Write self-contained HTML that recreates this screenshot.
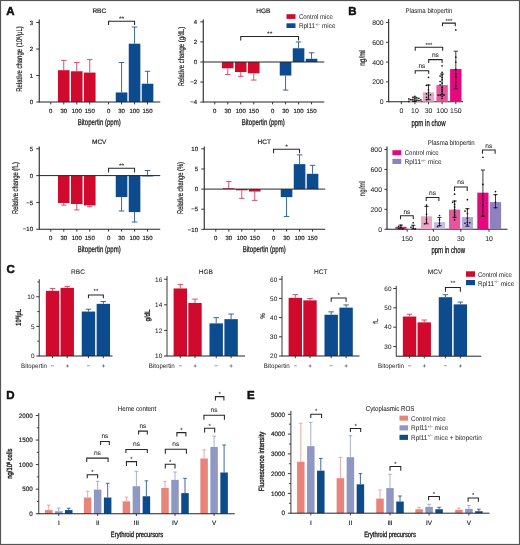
<!DOCTYPE html><html><head><meta charset="utf-8"><style>html,body{margin:0;padding:0;background:#fff;}svg{display:block;font-family:"Liberation Sans",sans-serif;will-change:transform;text-rendering:geometricPrecision;}</style></head><body>
<svg width="520" height="545" viewBox="0 0 520 545">
<rect x="0" y="0" width="520" height="545" fill="#fff"/>
<rect x="57.95" y="70.20" width="11.60" height="31.80" fill="#cf0a2c"/>
<rect x="70.95" y="71.26" width="11.60" height="30.74" fill="#cf0a2c"/>
<rect x="83.95" y="72.58" width="11.60" height="29.42" fill="#cf0a2c"/>
<rect x="115.75" y="92.46" width="11.60" height="9.54" fill="#0c4b8e"/>
<rect x="128.75" y="43.70" width="11.60" height="58.30" fill="#0c4b8e"/>
<rect x="141.75" y="83.72" width="11.60" height="18.28" fill="#0c4b8e"/>
<line x1="63.75" y1="70.20" x2="63.75" y2="60.39" stroke="#d04060" stroke-width="0.9"/>
<line x1="61.00" y1="60.39" x2="66.50" y2="60.39" stroke="#d04060" stroke-width="0.9"/>
<line x1="76.75" y1="71.26" x2="76.75" y2="62.52" stroke="#d04060" stroke-width="0.9"/>
<line x1="74.00" y1="62.52" x2="79.50" y2="62.52" stroke="#d04060" stroke-width="0.9"/>
<line x1="89.75" y1="72.58" x2="89.75" y2="59.60" stroke="#d04060" stroke-width="0.9"/>
<line x1="87.00" y1="59.60" x2="92.50" y2="59.60" stroke="#d04060" stroke-width="0.9"/>
<line x1="121.55" y1="92.46" x2="121.55" y2="62.52" stroke="#245896" stroke-width="0.9"/>
<line x1="118.80" y1="62.52" x2="124.30" y2="62.52" stroke="#245896" stroke-width="0.9"/>
<line x1="134.55" y1="43.70" x2="134.55" y2="27.00" stroke="#245896" stroke-width="0.9"/>
<line x1="131.80" y1="27.00" x2="137.30" y2="27.00" stroke="#245896" stroke-width="0.9"/>
<line x1="147.55" y1="83.72" x2="147.55" y2="71.26" stroke="#245896" stroke-width="0.9"/>
<line x1="144.80" y1="71.26" x2="150.30" y2="71.26" stroke="#245896" stroke-width="0.9"/>
<line x1="39.25" y1="19.50" x2="39.25" y2="102.50" stroke="#252525" stroke-width="1.1"/>
<line x1="36.25" y1="102.00" x2="39.25" y2="102.00" stroke="#252525" stroke-width="0.9"/>
<text x="33.05" y="104.15" font-size="6" text-anchor="end" fill="#1c1c1c" stroke="#1c1c1c" stroke-width="0.18">0</text>
<line x1="36.25" y1="75.50" x2="39.25" y2="75.50" stroke="#252525" stroke-width="0.9"/>
<text x="33.05" y="77.65" font-size="6" text-anchor="end" fill="#1c1c1c" stroke="#1c1c1c" stroke-width="0.18">1</text>
<line x1="36.25" y1="49.00" x2="39.25" y2="49.00" stroke="#252525" stroke-width="0.9"/>
<text x="33.05" y="51.15" font-size="6" text-anchor="end" fill="#1c1c1c" stroke="#1c1c1c" stroke-width="0.18">2</text>
<line x1="36.25" y1="22.50" x2="39.25" y2="22.50" stroke="#252525" stroke-width="0.9"/>
<text x="33.05" y="24.65" font-size="6" text-anchor="end" fill="#1c1c1c" stroke="#1c1c1c" stroke-width="0.18">3</text>
<line x1="39.25" y1="102.00" x2="160.25" y2="102.00" stroke="#252525" stroke-width="1.0"/>
<line x1="50.75" y1="102.00" x2="50.75" y2="104.40" stroke="#252525" stroke-width="0.9"/>
<text x="50.75" y="112.85" font-size="6" text-anchor="middle" fill="#1c1c1c" stroke="#1c1c1c" stroke-width="0.18">0</text>
<line x1="63.75" y1="102.00" x2="63.75" y2="104.40" stroke="#252525" stroke-width="0.9"/>
<text x="63.75" y="112.85" font-size="6" text-anchor="middle" fill="#1c1c1c" stroke="#1c1c1c" stroke-width="0.18">30</text>
<line x1="76.75" y1="102.00" x2="76.75" y2="104.40" stroke="#252525" stroke-width="0.9"/>
<text x="76.75" y="112.85" font-size="6" text-anchor="middle" fill="#1c1c1c" stroke="#1c1c1c" stroke-width="0.18">100</text>
<line x1="89.75" y1="102.00" x2="89.75" y2="104.40" stroke="#252525" stroke-width="0.9"/>
<text x="89.75" y="112.85" font-size="6" text-anchor="middle" fill="#1c1c1c" stroke="#1c1c1c" stroke-width="0.18">150</text>
<line x1="108.55" y1="102.00" x2="108.55" y2="104.40" stroke="#252525" stroke-width="0.9"/>
<text x="108.55" y="112.85" font-size="6" text-anchor="middle" fill="#1c1c1c" stroke="#1c1c1c" stroke-width="0.18">0</text>
<line x1="121.55" y1="102.00" x2="121.55" y2="104.40" stroke="#252525" stroke-width="0.9"/>
<text x="121.55" y="112.85" font-size="6" text-anchor="middle" fill="#1c1c1c" stroke="#1c1c1c" stroke-width="0.18">30</text>
<line x1="134.55" y1="102.00" x2="134.55" y2="104.40" stroke="#252525" stroke-width="0.9"/>
<text x="134.55" y="112.85" font-size="6" text-anchor="middle" fill="#1c1c1c" stroke="#1c1c1c" stroke-width="0.18">100</text>
<line x1="147.55" y1="102.00" x2="147.55" y2="104.40" stroke="#252525" stroke-width="0.9"/>
<text x="147.55" y="112.85" font-size="6" text-anchor="middle" fill="#1c1c1c" stroke="#1c1c1c" stroke-width="0.18">150</text>
<text x="99.25" y="12.83" font-size="6.5" text-anchor="middle" fill="#1c1c1c" stroke="#1c1c1c" stroke-width="0.18">RBC</text>
<text x="99.25" y="124.94" font-size="8.5" text-anchor="middle" fill="#1c1c1c" stroke="#1c1c1c" stroke-width="0.28" textLength="43" lengthAdjust="spacingAndGlyphs">Bitopertin (ppm)</text>
<text x="0" y="0" font-size="8.2" text-anchor="middle" fill="#1c1c1c" stroke="#1c1c1c" stroke-width="0.2" textLength="65.5" lengthAdjust="spacingAndGlyphs" transform="translate(22.40 59.00) rotate(-90)">Relative change (10<tspan font-size="5" dy="-2.5">6</tspan><tspan dy="2.5">/μL)</tspan></text>
<path d="M108.55,25.00 V21.25 H134.55 V25.00" fill="none" stroke="#252525" stroke-width="1.05"/>
<text x="121.55" y="21.23" font-size="6.8" text-anchor="middle" fill="#1c1c1c" stroke="#1c1c1c" stroke-width="0.05">**</text>
<rect x="221.95" y="62.00" width="11.60" height="6.32" fill="#cf0a2c"/>
<rect x="234.95" y="62.00" width="11.60" height="10.03" fill="#cf0a2c"/>
<rect x="247.95" y="62.00" width="11.60" height="11.33" fill="#cf0a2c"/>
<rect x="279.75" y="62.00" width="11.60" height="13.54" fill="#0c4b8e"/>
<rect x="292.75" y="48.26" width="11.60" height="13.74" fill="#0c4b8e"/>
<rect x="305.75" y="58.79" width="11.60" height="3.21" fill="#0c4b8e"/>
<line x1="227.75" y1="68.32" x2="227.75" y2="74.54" stroke="#d04060" stroke-width="0.9"/>
<line x1="225.00" y1="74.54" x2="230.50" y2="74.54" stroke="#d04060" stroke-width="0.9"/>
<line x1="240.75" y1="72.03" x2="240.75" y2="76.34" stroke="#d04060" stroke-width="0.9"/>
<line x1="238.00" y1="76.34" x2="243.50" y2="76.34" stroke="#d04060" stroke-width="0.9"/>
<line x1="253.75" y1="73.33" x2="253.75" y2="80.05" stroke="#d04060" stroke-width="0.9"/>
<line x1="251.00" y1="80.05" x2="256.50" y2="80.05" stroke="#d04060" stroke-width="0.9"/>
<line x1="285.55" y1="75.54" x2="285.55" y2="90.08" stroke="#245896" stroke-width="0.9"/>
<line x1="282.80" y1="90.08" x2="288.30" y2="90.08" stroke="#245896" stroke-width="0.9"/>
<line x1="298.55" y1="48.26" x2="298.55" y2="41.94" stroke="#245896" stroke-width="0.9"/>
<line x1="295.80" y1="41.94" x2="301.30" y2="41.94" stroke="#245896" stroke-width="0.9"/>
<line x1="311.55" y1="58.79" x2="311.55" y2="52.77" stroke="#245896" stroke-width="0.9"/>
<line x1="308.80" y1="52.77" x2="314.30" y2="52.77" stroke="#245896" stroke-width="0.9"/>
<line x1="203.25" y1="19.50" x2="203.25" y2="102.50" stroke="#252525" stroke-width="1.1"/>
<line x1="200.25" y1="102.12" x2="203.25" y2="102.12" stroke="#252525" stroke-width="0.9"/>
<text x="197.05" y="104.27" font-size="6" text-anchor="end" fill="#1c1c1c" stroke="#1c1c1c" stroke-width="0.18">−4</text>
<line x1="200.25" y1="82.06" x2="203.25" y2="82.06" stroke="#252525" stroke-width="0.9"/>
<text x="197.05" y="84.21" font-size="6" text-anchor="end" fill="#1c1c1c" stroke="#1c1c1c" stroke-width="0.18">−2</text>
<line x1="200.25" y1="62.00" x2="203.25" y2="62.00" stroke="#252525" stroke-width="0.9"/>
<text x="197.05" y="64.15" font-size="6" text-anchor="end" fill="#1c1c1c" stroke="#1c1c1c" stroke-width="0.18">0</text>
<line x1="200.25" y1="41.94" x2="203.25" y2="41.94" stroke="#252525" stroke-width="0.9"/>
<text x="197.05" y="44.09" font-size="6" text-anchor="end" fill="#1c1c1c" stroke="#1c1c1c" stroke-width="0.18">2</text>
<line x1="200.25" y1="21.88" x2="203.25" y2="21.88" stroke="#252525" stroke-width="0.9"/>
<text x="197.05" y="24.03" font-size="6" text-anchor="end" fill="#1c1c1c" stroke="#1c1c1c" stroke-width="0.18">4</text>
<line x1="203.25" y1="102.00" x2="324.25" y2="102.00" stroke="#252525" stroke-width="1.0"/>
<line x1="203.25" y1="62.00" x2="324.25" y2="62.00" stroke="#252525" stroke-width="1.0"/>
<line x1="214.75" y1="102.00" x2="214.75" y2="104.40" stroke="#252525" stroke-width="0.9"/>
<text x="214.75" y="112.85" font-size="6" text-anchor="middle" fill="#1c1c1c" stroke="#1c1c1c" stroke-width="0.18">0</text>
<line x1="227.75" y1="102.00" x2="227.75" y2="104.40" stroke="#252525" stroke-width="0.9"/>
<text x="227.75" y="112.85" font-size="6" text-anchor="middle" fill="#1c1c1c" stroke="#1c1c1c" stroke-width="0.18">30</text>
<line x1="240.75" y1="102.00" x2="240.75" y2="104.40" stroke="#252525" stroke-width="0.9"/>
<text x="240.75" y="112.85" font-size="6" text-anchor="middle" fill="#1c1c1c" stroke="#1c1c1c" stroke-width="0.18">100</text>
<line x1="253.75" y1="102.00" x2="253.75" y2="104.40" stroke="#252525" stroke-width="0.9"/>
<text x="253.75" y="112.85" font-size="6" text-anchor="middle" fill="#1c1c1c" stroke="#1c1c1c" stroke-width="0.18">150</text>
<line x1="272.55" y1="102.00" x2="272.55" y2="104.40" stroke="#252525" stroke-width="0.9"/>
<text x="272.55" y="112.85" font-size="6" text-anchor="middle" fill="#1c1c1c" stroke="#1c1c1c" stroke-width="0.18">0</text>
<line x1="285.55" y1="102.00" x2="285.55" y2="104.40" stroke="#252525" stroke-width="0.9"/>
<text x="285.55" y="112.85" font-size="6" text-anchor="middle" fill="#1c1c1c" stroke="#1c1c1c" stroke-width="0.18">30</text>
<line x1="298.55" y1="102.00" x2="298.55" y2="104.40" stroke="#252525" stroke-width="0.9"/>
<text x="298.55" y="112.85" font-size="6" text-anchor="middle" fill="#1c1c1c" stroke="#1c1c1c" stroke-width="0.18">100</text>
<line x1="311.55" y1="102.00" x2="311.55" y2="104.40" stroke="#252525" stroke-width="0.9"/>
<text x="311.55" y="112.85" font-size="6" text-anchor="middle" fill="#1c1c1c" stroke="#1c1c1c" stroke-width="0.18">150</text>
<text x="263.25" y="12.83" font-size="6.5" text-anchor="middle" fill="#1c1c1c" stroke="#1c1c1c" stroke-width="0.18">HGB</text>
<text x="263.25" y="124.94" font-size="8.5" text-anchor="middle" fill="#1c1c1c" stroke="#1c1c1c" stroke-width="0.28" textLength="43" lengthAdjust="spacingAndGlyphs">Bitopertin (ppm)</text>
<text x="0" y="0" font-size="8.2" text-anchor="middle" fill="#1c1c1c" stroke="#1c1c1c" stroke-width="0.2" textLength="59.4" lengthAdjust="spacingAndGlyphs" transform="translate(184.30 56.60) rotate(-90)">Relative change (g/dL)</text>
<path d="M240.75,40.50 V36.50 H298.55 V40.50" fill="none" stroke="#252525" stroke-width="1.05"/>
<text x="269.65" y="36.23" font-size="6.8" text-anchor="middle" fill="#1c1c1c" stroke="#1c1c1c" stroke-width="0.05">**</text>
<rect x="57.95" y="175.60" width="11.60" height="27.37" fill="#cf0a2c"/>
<rect x="70.95" y="175.60" width="11.60" height="28.45" fill="#cf0a2c"/>
<rect x="83.95" y="175.60" width="11.60" height="29.79" fill="#cf0a2c"/>
<rect x="115.75" y="175.60" width="11.60" height="21.47" fill="#0c4b8e"/>
<rect x="128.75" y="175.60" width="11.60" height="36.50" fill="#0c4b8e"/>
<rect x="141.75" y="175.60" width="11.60" height="0.81" fill="#0c4b8e"/>
<line x1="63.75" y1="202.97" x2="63.75" y2="205.12" stroke="#d04060" stroke-width="0.9"/>
<line x1="61.00" y1="205.12" x2="66.50" y2="205.12" stroke="#d04060" stroke-width="0.9"/>
<line x1="76.75" y1="204.05" x2="76.75" y2="209.95" stroke="#d04060" stroke-width="0.9"/>
<line x1="74.00" y1="209.95" x2="79.50" y2="209.95" stroke="#d04060" stroke-width="0.9"/>
<line x1="89.75" y1="205.39" x2="89.75" y2="206.73" stroke="#d04060" stroke-width="0.9"/>
<line x1="87.00" y1="206.73" x2="92.50" y2="206.73" stroke="#d04060" stroke-width="0.9"/>
<line x1="121.55" y1="197.07" x2="121.55" y2="211.02" stroke="#245896" stroke-width="0.9"/>
<line x1="118.80" y1="211.02" x2="124.30" y2="211.02" stroke="#245896" stroke-width="0.9"/>
<line x1="134.55" y1="212.10" x2="134.55" y2="222.02" stroke="#245896" stroke-width="0.9"/>
<line x1="131.80" y1="222.02" x2="137.30" y2="222.02" stroke="#245896" stroke-width="0.9"/>
<line x1="147.55" y1="176.41" x2="147.55" y2="170.50" stroke="#245896" stroke-width="0.9"/>
<line x1="144.80" y1="170.50" x2="150.30" y2="170.50" stroke="#245896" stroke-width="0.9"/>
<line x1="39.25" y1="146.50" x2="39.25" y2="229.75" stroke="#252525" stroke-width="1.1"/>
<line x1="36.25" y1="229.27" x2="39.25" y2="229.27" stroke="#252525" stroke-width="0.9"/>
<text x="33.05" y="231.42" font-size="6" text-anchor="end" fill="#1c1c1c" stroke="#1c1c1c" stroke-width="0.18">−10</text>
<line x1="36.25" y1="202.44" x2="39.25" y2="202.44" stroke="#252525" stroke-width="0.9"/>
<text x="33.05" y="204.58" font-size="6" text-anchor="end" fill="#1c1c1c" stroke="#1c1c1c" stroke-width="0.18">−5</text>
<line x1="36.25" y1="175.60" x2="39.25" y2="175.60" stroke="#252525" stroke-width="0.9"/>
<text x="33.05" y="177.75" font-size="6" text-anchor="end" fill="#1c1c1c" stroke="#1c1c1c" stroke-width="0.18">0</text>
<line x1="36.25" y1="148.76" x2="39.25" y2="148.76" stroke="#252525" stroke-width="0.9"/>
<text x="33.05" y="150.91" font-size="6" text-anchor="end" fill="#1c1c1c" stroke="#1c1c1c" stroke-width="0.18">5</text>
<line x1="39.25" y1="229.25" x2="160.25" y2="229.25" stroke="#252525" stroke-width="1.0"/>
<line x1="39.25" y1="175.60" x2="160.25" y2="175.60" stroke="#252525" stroke-width="1.0"/>
<line x1="50.75" y1="229.25" x2="50.75" y2="231.65" stroke="#252525" stroke-width="0.9"/>
<text x="50.75" y="240.10" font-size="6" text-anchor="middle" fill="#1c1c1c" stroke="#1c1c1c" stroke-width="0.18">0</text>
<line x1="63.75" y1="229.25" x2="63.75" y2="231.65" stroke="#252525" stroke-width="0.9"/>
<text x="63.75" y="240.10" font-size="6" text-anchor="middle" fill="#1c1c1c" stroke="#1c1c1c" stroke-width="0.18">30</text>
<line x1="76.75" y1="229.25" x2="76.75" y2="231.65" stroke="#252525" stroke-width="0.9"/>
<text x="76.75" y="240.10" font-size="6" text-anchor="middle" fill="#1c1c1c" stroke="#1c1c1c" stroke-width="0.18">100</text>
<line x1="89.75" y1="229.25" x2="89.75" y2="231.65" stroke="#252525" stroke-width="0.9"/>
<text x="89.75" y="240.10" font-size="6" text-anchor="middle" fill="#1c1c1c" stroke="#1c1c1c" stroke-width="0.18">150</text>
<line x1="108.55" y1="229.25" x2="108.55" y2="231.65" stroke="#252525" stroke-width="0.9"/>
<text x="108.55" y="240.10" font-size="6" text-anchor="middle" fill="#1c1c1c" stroke="#1c1c1c" stroke-width="0.18">0</text>
<line x1="121.55" y1="229.25" x2="121.55" y2="231.65" stroke="#252525" stroke-width="0.9"/>
<text x="121.55" y="240.10" font-size="6" text-anchor="middle" fill="#1c1c1c" stroke="#1c1c1c" stroke-width="0.18">30</text>
<line x1="134.55" y1="229.25" x2="134.55" y2="231.65" stroke="#252525" stroke-width="0.9"/>
<text x="134.55" y="240.10" font-size="6" text-anchor="middle" fill="#1c1c1c" stroke="#1c1c1c" stroke-width="0.18">100</text>
<line x1="147.55" y1="229.25" x2="147.55" y2="231.65" stroke="#252525" stroke-width="0.9"/>
<text x="147.55" y="240.10" font-size="6" text-anchor="middle" fill="#1c1c1c" stroke="#1c1c1c" stroke-width="0.18">150</text>
<text x="99.25" y="143.58" font-size="6.5" text-anchor="middle" fill="#1c1c1c" stroke="#1c1c1c" stroke-width="0.18">MCV</text>
<text x="99.25" y="252.19" font-size="8.5" text-anchor="middle" fill="#1c1c1c" stroke="#1c1c1c" stroke-width="0.28" textLength="43" lengthAdjust="spacingAndGlyphs">Bitopertin (ppm)</text>
<text x="0" y="0" font-size="8.2" text-anchor="middle" fill="#1c1c1c" stroke="#1c1c1c" stroke-width="0.2" textLength="52" lengthAdjust="spacingAndGlyphs" transform="translate(17.60 188.00) rotate(-90)">Relative change (fL)</text>
<path d="M108.55,172.40 V168.20 H134.55 V172.40" fill="none" stroke="#252525" stroke-width="1.05"/>
<text x="121.55" y="168.23" font-size="6.8" text-anchor="middle" fill="#1c1c1c" stroke="#1c1c1c" stroke-width="0.05">**</text>
<rect x="222.95" y="188.29" width="11.60" height="0.81" fill="#cf0a2c"/>
<rect x="235.95" y="189.10" width="11.60" height="1.21" fill="#cf0a2c"/>
<rect x="248.95" y="189.10" width="11.60" height="2.41" fill="#cf0a2c"/>
<rect x="280.75" y="189.10" width="11.60" height="8.05" fill="#0c4b8e"/>
<rect x="293.75" y="164.14" width="11.60" height="24.96" fill="#0c4b8e"/>
<rect x="306.75" y="173.81" width="11.60" height="15.29" fill="#0c4b8e"/>
<line x1="228.75" y1="188.29" x2="228.75" y2="181.45" stroke="#d04060" stroke-width="0.9"/>
<line x1="226.00" y1="181.45" x2="231.50" y2="181.45" stroke="#d04060" stroke-width="0.9"/>
<line x1="241.75" y1="190.31" x2="241.75" y2="198.36" stroke="#d04060" stroke-width="0.9"/>
<line x1="239.00" y1="198.36" x2="244.50" y2="198.36" stroke="#d04060" stroke-width="0.9"/>
<line x1="254.75" y1="191.51" x2="254.75" y2="200.37" stroke="#d04060" stroke-width="0.9"/>
<line x1="252.00" y1="200.37" x2="257.50" y2="200.37" stroke="#d04060" stroke-width="0.9"/>
<line x1="286.55" y1="197.15" x2="286.55" y2="216.47" stroke="#245896" stroke-width="0.9"/>
<line x1="283.80" y1="216.47" x2="289.30" y2="216.47" stroke="#245896" stroke-width="0.9"/>
<line x1="299.55" y1="164.14" x2="299.55" y2="154.89" stroke="#245896" stroke-width="0.9"/>
<line x1="296.80" y1="154.89" x2="302.30" y2="154.89" stroke="#245896" stroke-width="0.9"/>
<line x1="312.55" y1="173.81" x2="312.55" y2="165.35" stroke="#245896" stroke-width="0.9"/>
<line x1="309.80" y1="165.35" x2="315.30" y2="165.35" stroke="#245896" stroke-width="0.9"/>
<line x1="204.25" y1="146.50" x2="204.25" y2="229.75" stroke="#252525" stroke-width="1.1"/>
<line x1="201.25" y1="229.35" x2="204.25" y2="229.35" stroke="#252525" stroke-width="0.9"/>
<text x="198.05" y="231.50" font-size="6" text-anchor="end" fill="#1c1c1c" stroke="#1c1c1c" stroke-width="0.18">−10</text>
<line x1="201.25" y1="209.22" x2="204.25" y2="209.22" stroke="#252525" stroke-width="0.9"/>
<text x="198.05" y="211.37" font-size="6" text-anchor="end" fill="#1c1c1c" stroke="#1c1c1c" stroke-width="0.18">−5</text>
<line x1="201.25" y1="189.10" x2="204.25" y2="189.10" stroke="#252525" stroke-width="0.9"/>
<text x="198.05" y="191.25" font-size="6" text-anchor="end" fill="#1c1c1c" stroke="#1c1c1c" stroke-width="0.18">0</text>
<line x1="201.25" y1="168.97" x2="204.25" y2="168.97" stroke="#252525" stroke-width="0.9"/>
<text x="198.05" y="171.12" font-size="6" text-anchor="end" fill="#1c1c1c" stroke="#1c1c1c" stroke-width="0.18">5</text>
<line x1="201.25" y1="148.85" x2="204.25" y2="148.85" stroke="#252525" stroke-width="0.9"/>
<text x="198.05" y="151.00" font-size="6" text-anchor="end" fill="#1c1c1c" stroke="#1c1c1c" stroke-width="0.18">10</text>
<line x1="204.25" y1="229.25" x2="325.25" y2="229.25" stroke="#252525" stroke-width="1.0"/>
<line x1="204.25" y1="189.10" x2="325.25" y2="189.10" stroke="#252525" stroke-width="1.0"/>
<line x1="215.75" y1="229.25" x2="215.75" y2="231.65" stroke="#252525" stroke-width="0.9"/>
<text x="215.75" y="240.10" font-size="6" text-anchor="middle" fill="#1c1c1c" stroke="#1c1c1c" stroke-width="0.18">0</text>
<line x1="228.75" y1="229.25" x2="228.75" y2="231.65" stroke="#252525" stroke-width="0.9"/>
<text x="228.75" y="240.10" font-size="6" text-anchor="middle" fill="#1c1c1c" stroke="#1c1c1c" stroke-width="0.18">30</text>
<line x1="241.75" y1="229.25" x2="241.75" y2="231.65" stroke="#252525" stroke-width="0.9"/>
<text x="241.75" y="240.10" font-size="6" text-anchor="middle" fill="#1c1c1c" stroke="#1c1c1c" stroke-width="0.18">100</text>
<line x1="254.75" y1="229.25" x2="254.75" y2="231.65" stroke="#252525" stroke-width="0.9"/>
<text x="254.75" y="240.10" font-size="6" text-anchor="middle" fill="#1c1c1c" stroke="#1c1c1c" stroke-width="0.18">150</text>
<line x1="273.55" y1="229.25" x2="273.55" y2="231.65" stroke="#252525" stroke-width="0.9"/>
<text x="273.55" y="240.10" font-size="6" text-anchor="middle" fill="#1c1c1c" stroke="#1c1c1c" stroke-width="0.18">0</text>
<line x1="286.55" y1="229.25" x2="286.55" y2="231.65" stroke="#252525" stroke-width="0.9"/>
<text x="286.55" y="240.10" font-size="6" text-anchor="middle" fill="#1c1c1c" stroke="#1c1c1c" stroke-width="0.18">30</text>
<line x1="299.55" y1="229.25" x2="299.55" y2="231.65" stroke="#252525" stroke-width="0.9"/>
<text x="299.55" y="240.10" font-size="6" text-anchor="middle" fill="#1c1c1c" stroke="#1c1c1c" stroke-width="0.18">100</text>
<line x1="312.55" y1="229.25" x2="312.55" y2="231.65" stroke="#252525" stroke-width="0.9"/>
<text x="312.55" y="240.10" font-size="6" text-anchor="middle" fill="#1c1c1c" stroke="#1c1c1c" stroke-width="0.18">150</text>
<text x="264.25" y="143.58" font-size="6.5" text-anchor="middle" fill="#1c1c1c" stroke="#1c1c1c" stroke-width="0.18">HCT</text>
<text x="264.25" y="252.19" font-size="8.5" text-anchor="middle" fill="#1c1c1c" stroke="#1c1c1c" stroke-width="0.28" textLength="43" lengthAdjust="spacingAndGlyphs">Bitopertin (ppm)</text>
<text x="0" y="0" font-size="8.2" text-anchor="middle" fill="#1c1c1c" stroke="#1c1c1c" stroke-width="0.2" textLength="52" lengthAdjust="spacingAndGlyphs" transform="translate(182.80 188.00) rotate(-90)">Relative change (%)</text>
<path d="M273.55,153.30 V149.30 H299.55 V153.30" fill="none" stroke="#252525" stroke-width="1.05"/>
<text x="286.55" y="149.23" font-size="6.8" text-anchor="middle" fill="#1c1c1c" stroke="#1c1c1c" stroke-width="0.05">*</text>
<rect x="286.50" y="14.20" width="9.00" height="4.70" fill="#cf0a2c"/>
<text x="298.90" y="18.93" font-size="6.8" fill="#1c1c1c" textLength="33.9" lengthAdjust="spacingAndGlyphs">Control mice</text>
<rect x="286.50" y="23.30" width="9.00" height="4.70" fill="#0c4b8e"/>
<text x="298.90" y="28.33" font-size="6.8" fill="#1c1c1c" textLength="36.6" lengthAdjust="spacingAndGlyphs">Rpl11<tspan font-size="3.74" dy="-2.58">+/−</tspan><tspan dy="2.58"> mice</tspan></text>
<line x1="388.65" y1="19.00" x2="388.65" y2="102.20" stroke="#252525" stroke-width="1.1"/>
<line x1="386.05" y1="101.70" x2="388.65" y2="101.70" stroke="#252525" stroke-width="0.9"/>
<text x="383.65" y="104.17" font-size="6.9" text-anchor="end" fill="#1c1c1c" stroke="#1c1c1c" stroke-width="0.02">0</text>
<line x1="386.05" y1="81.90" x2="388.65" y2="81.90" stroke="#252525" stroke-width="0.9"/>
<text x="383.65" y="84.37" font-size="6.9" text-anchor="end" fill="#1c1c1c" stroke="#1c1c1c" stroke-width="0.02">200</text>
<line x1="386.05" y1="62.10" x2="388.65" y2="62.10" stroke="#252525" stroke-width="0.9"/>
<text x="383.65" y="64.57" font-size="6.9" text-anchor="end" fill="#1c1c1c" stroke="#1c1c1c" stroke-width="0.02">400</text>
<line x1="386.05" y1="42.30" x2="388.65" y2="42.30" stroke="#252525" stroke-width="0.9"/>
<text x="383.65" y="44.77" font-size="6.9" text-anchor="end" fill="#1c1c1c" stroke="#1c1c1c" stroke-width="0.02">600</text>
<line x1="386.05" y1="22.50" x2="388.65" y2="22.50" stroke="#252525" stroke-width="0.9"/>
<text x="383.65" y="24.97" font-size="6.9" text-anchor="end" fill="#1c1c1c" stroke="#1c1c1c" stroke-width="0.02">800</text>
<line x1="388.65" y1="101.70" x2="463.00" y2="101.70" stroke="#252525" stroke-width="1.1"/>
<line x1="401.30" y1="101.70" x2="401.30" y2="104.20" stroke="#252525" stroke-width="0.9"/>
<text x="401.30" y="112.67" font-size="6.9" text-anchor="middle" fill="#1c1c1c" stroke="#1c1c1c" stroke-width="0.02">0</text>
<line x1="414.90" y1="101.70" x2="414.90" y2="104.20" stroke="#252525" stroke-width="0.9"/>
<text x="414.90" y="112.67" font-size="6.9" text-anchor="middle" fill="#1c1c1c" stroke="#1c1c1c" stroke-width="0.02">10</text>
<line x1="428.50" y1="101.70" x2="428.50" y2="104.20" stroke="#252525" stroke-width="0.9"/>
<text x="428.50" y="112.67" font-size="6.9" text-anchor="middle" fill="#1c1c1c" stroke="#1c1c1c" stroke-width="0.02">30</text>
<line x1="442.10" y1="101.70" x2="442.10" y2="104.20" stroke="#252525" stroke-width="0.9"/>
<text x="442.10" y="112.67" font-size="6.9" text-anchor="middle" fill="#1c1c1c" stroke="#1c1c1c" stroke-width="0.02">100</text>
<line x1="455.80" y1="101.70" x2="455.80" y2="104.20" stroke="#252525" stroke-width="0.9"/>
<text x="455.80" y="112.67" font-size="6.9" text-anchor="middle" fill="#1c1c1c" stroke="#1c1c1c" stroke-width="0.02">150</text>
<rect x="409.20" y="99.52" width="11.40" height="2.18" fill="#f3bcd6"/>
<rect x="422.80" y="92.30" width="11.40" height="9.41" fill="#f0a5c8"/>
<rect x="436.40" y="85.07" width="11.40" height="16.63" fill="#e8559f"/>
<rect x="450.10" y="69.03" width="11.40" height="32.67" fill="#e5097f"/>
<line x1="414.90" y1="101.50" x2="414.90" y2="97.25" stroke="#1a1a1a" stroke-width="0.85"/>
<line x1="412.80" y1="97.25" x2="417.00" y2="97.25" stroke="#1a1a1a" stroke-width="0.85"/>
<line x1="412.80" y1="101.50" x2="417.00" y2="101.50" stroke="#1a1a1a" stroke-width="0.85"/>
<line x1="428.50" y1="99.72" x2="428.50" y2="85.07" stroke="#1a1a1a" stroke-width="0.85"/>
<line x1="426.40" y1="85.07" x2="430.60" y2="85.07" stroke="#1a1a1a" stroke-width="0.85"/>
<line x1="426.40" y1="99.72" x2="430.60" y2="99.72" stroke="#1a1a1a" stroke-width="0.85"/>
<line x1="442.10" y1="94.77" x2="442.10" y2="73.98" stroke="#1a1a1a" stroke-width="0.85"/>
<line x1="440.00" y1="73.98" x2="444.20" y2="73.98" stroke="#1a1a1a" stroke-width="0.85"/>
<line x1="440.00" y1="94.77" x2="444.20" y2="94.77" stroke="#1a1a1a" stroke-width="0.85"/>
<line x1="455.80" y1="88.83" x2="455.80" y2="51.21" stroke="#1a1a1a" stroke-width="0.85"/>
<line x1="453.70" y1="51.21" x2="457.90" y2="51.21" stroke="#1a1a1a" stroke-width="0.85"/>
<line x1="453.70" y1="88.83" x2="457.90" y2="88.83" stroke="#1a1a1a" stroke-width="0.85"/>
<circle cx="414.90" cy="96.25" r="0.85" fill="#111"/>
<circle cx="412.90" cy="97.25" r="0.85" fill="#111"/>
<circle cx="416.90" cy="97.94" r="0.85" fill="#111"/>
<circle cx="414.90" cy="98.73" r="0.85" fill="#111"/>
<circle cx="412.90" cy="99.23" r="0.85" fill="#111"/>
<circle cx="410.90" cy="99.72" r="0.85" fill="#111"/>
<circle cx="416.90" cy="100.22" r="0.85" fill="#111"/>
<circle cx="418.90" cy="100.51" r="0.85" fill="#111"/>
<circle cx="414.90" cy="100.91" r="0.85" fill="#111"/>
<circle cx="412.90" cy="101.20" r="0.85" fill="#111"/>
<circle cx="408.90" cy="101.40" r="0.85" fill="#111"/>
<circle cx="418.90" cy="98.23" r="0.85" fill="#111"/>
<circle cx="420.90" cy="99.92" r="0.85" fill="#111"/>
<circle cx="408.90" cy="98.93" r="0.85" fill="#111"/>
<circle cx="428.50" cy="77.35" r="0.85" fill="#111"/>
<circle cx="428.50" cy="85.07" r="0.85" fill="#111"/>
<circle cx="426.50" cy="85.37" r="0.85" fill="#111"/>
<circle cx="428.50" cy="89.82" r="0.85" fill="#111"/>
<circle cx="428.50" cy="92.30" r="0.85" fill="#111"/>
<circle cx="426.50" cy="93.78" r="0.85" fill="#111"/>
<circle cx="428.50" cy="95.76" r="0.85" fill="#111"/>
<circle cx="426.50" cy="97.25" r="0.85" fill="#111"/>
<circle cx="428.50" cy="98.73" r="0.85" fill="#111"/>
<circle cx="426.50" cy="99.72" r="0.85" fill="#111"/>
<circle cx="430.50" cy="94.77" r="0.85" fill="#111"/>
<circle cx="442.10" cy="65.76" r="0.85" fill="#111"/>
<circle cx="442.10" cy="72.40" r="0.85" fill="#111"/>
<circle cx="442.10" cy="74.87" r="0.85" fill="#111"/>
<circle cx="440.10" cy="76.06" r="0.85" fill="#111"/>
<circle cx="442.10" cy="77.44" r="0.85" fill="#111"/>
<circle cx="442.10" cy="79.82" r="0.85" fill="#111"/>
<circle cx="440.10" cy="81.50" r="0.85" fill="#111"/>
<circle cx="442.10" cy="83.09" r="0.85" fill="#111"/>
<circle cx="440.10" cy="84.77" r="0.85" fill="#111"/>
<circle cx="442.10" cy="87.34" r="0.85" fill="#111"/>
<circle cx="442.10" cy="89.33" r="0.85" fill="#111"/>
<circle cx="442.10" cy="91.40" r="0.85" fill="#111"/>
<circle cx="442.10" cy="93.88" r="0.85" fill="#111"/>
<circle cx="440.10" cy="95.07" r="0.85" fill="#111"/>
<circle cx="442.10" cy="96.35" r="0.85" fill="#111"/>
<circle cx="442.10" cy="98.43" r="0.85" fill="#111"/>
<circle cx="444.10" cy="95.07" r="0.85" fill="#111"/>
<circle cx="438.10" cy="95.07" r="0.85" fill="#111"/>
<circle cx="455.80" cy="29.92" r="0.85" fill="#3a0a20"/>
<circle cx="455.80" cy="57.15" r="0.85" fill="#3a0a20"/>
<circle cx="455.80" cy="62.10" r="0.85" fill="#3a0a20"/>
<circle cx="455.80" cy="69.03" r="0.85" fill="#3a0a20"/>
<circle cx="455.80" cy="73.98" r="0.85" fill="#3a0a20"/>
<circle cx="455.80" cy="76.95" r="0.85" fill="#3a0a20"/>
<circle cx="455.80" cy="81.90" r="0.85" fill="#3a0a20"/>
<circle cx="455.80" cy="85.86" r="0.85" fill="#3a0a20"/>
<text x="428.90" y="12.77" font-size="6.9" text-anchor="middle" fill="#1c1c1c" stroke="#1c1c1c" stroke-width="0.02" textLength="46.8" lengthAdjust="spacingAndGlyphs">Plasma bitopertin</text>
<text x="428.60" y="125.52" font-size="9" text-anchor="middle" fill="#1c1c1c" stroke="#1c1c1c" stroke-width="0.3" textLength="34" lengthAdjust="spacingAndGlyphs">ppm in chow</text>
<text x="0" y="0" font-size="8.3" text-anchor="middle" fill="#1c1c1c" stroke="#1c1c1c" stroke-width="0.25" textLength="15.6" lengthAdjust="spacingAndGlyphs" transform="translate(365.40 57.90) rotate(-90)">ng/ml</text>
<path d="M442.50,26.30 V23.10 H455.30 V26.30" fill="none" stroke="#252525" stroke-width="1.05"/>
<text x="448.90" y="23.15" font-size="6" text-anchor="middle" fill="#1c1c1c" stroke="#1c1c1c" stroke-width="0.05">***</text>
<path d="M415.20,50.70 V47.20 H442.70 V50.70" fill="none" stroke="#252525" stroke-width="1.05"/>
<text x="428.95" y="46.75" font-size="6" text-anchor="middle" fill="#1c1c1c" stroke="#1c1c1c" stroke-width="0.05">***</text>
<path d="M428.70,62.90 V59.60 H442.10 V62.90" fill="none" stroke="#252525" stroke-width="1.05"/>
<text x="435.40" y="56.56" font-size="6.6" text-anchor="middle" fill="#1c1c1c" stroke="#1c1c1c" stroke-width="0.05">ns</text>
<path d="M415.20,73.80 V70.70 H428.70 V73.80" fill="none" stroke="#252525" stroke-width="1.05"/>
<text x="421.95" y="67.56" font-size="6.6" text-anchor="middle" fill="#1c1c1c" stroke="#1c1c1c" stroke-width="0.05">ns</text>
<line x1="387.00" y1="146.50" x2="387.00" y2="229.80" stroke="#252525" stroke-width="1.1"/>
<line x1="384.40" y1="229.25" x2="387.00" y2="229.25" stroke="#252525" stroke-width="0.9"/>
<text x="382.00" y="231.72" font-size="6.9" text-anchor="end" fill="#1c1c1c" stroke="#1c1c1c" stroke-width="0.02">0</text>
<line x1="384.40" y1="209.31" x2="387.00" y2="209.31" stroke="#252525" stroke-width="0.9"/>
<text x="382.00" y="211.78" font-size="6.9" text-anchor="end" fill="#1c1c1c" stroke="#1c1c1c" stroke-width="0.02">200</text>
<line x1="384.40" y1="189.37" x2="387.00" y2="189.37" stroke="#252525" stroke-width="0.9"/>
<text x="382.00" y="191.84" font-size="6.9" text-anchor="end" fill="#1c1c1c" stroke="#1c1c1c" stroke-width="0.02">400</text>
<line x1="384.40" y1="169.43" x2="387.00" y2="169.43" stroke="#252525" stroke-width="0.9"/>
<text x="382.00" y="171.90" font-size="6.9" text-anchor="end" fill="#1c1c1c" stroke="#1c1c1c" stroke-width="0.02">600</text>
<line x1="384.40" y1="149.49" x2="387.00" y2="149.49" stroke="#252525" stroke-width="0.9"/>
<text x="382.00" y="151.96" font-size="6.9" text-anchor="end" fill="#1c1c1c" stroke="#1c1c1c" stroke-width="0.02">800</text>
<line x1="387.00" y1="229.25" x2="507.50" y2="229.25" stroke="#252525" stroke-width="1.1"/>
<line x1="407.20" y1="229.25" x2="407.20" y2="231.80" stroke="#252525" stroke-width="0.9"/>
<text x="407.20" y="241.27" font-size="6.9" text-anchor="middle" fill="#1c1c1c" stroke="#1c1c1c" stroke-width="0.02">150</text>
<line x1="433.40" y1="229.25" x2="433.40" y2="231.80" stroke="#252525" stroke-width="0.9"/>
<text x="433.40" y="241.27" font-size="6.9" text-anchor="middle" fill="#1c1c1c" stroke="#1c1c1c" stroke-width="0.02">100</text>
<line x1="460.80" y1="229.25" x2="460.80" y2="231.80" stroke="#252525" stroke-width="0.9"/>
<text x="460.80" y="241.27" font-size="6.9" text-anchor="middle" fill="#1c1c1c" stroke="#1c1c1c" stroke-width="0.02">30</text>
<line x1="489.00" y1="229.25" x2="489.00" y2="231.80" stroke="#252525" stroke-width="0.9"/>
<text x="489.00" y="241.27" font-size="6.9" text-anchor="middle" fill="#1c1c1c" stroke="#1c1c1c" stroke-width="0.02">10</text>
<rect x="395.30" y="226.76" width="11.20" height="2.49" fill="#d0307a"/>
<rect x="407.60" y="228.05" width="11.20" height="1.20" fill="#c9c2e4"/>
<rect x="420.90" y="216.29" width="11.20" height="12.96" fill="#f0a5c8"/>
<rect x="433.90" y="222.07" width="11.20" height="7.18" fill="#c4bce2"/>
<rect x="449.00" y="209.61" width="11.20" height="19.64" fill="#e8559f"/>
<rect x="461.80" y="217.09" width="11.20" height="12.16" fill="#b2a8d8"/>
<rect x="477.30" y="192.66" width="11.20" height="36.59" fill="#e5097f"/>
<rect x="489.90" y="202.13" width="11.20" height="27.12" fill="#8f80c0"/>
<line x1="400.90" y1="229.05" x2="400.90" y2="225.06" stroke="#1a1a1a" stroke-width="0.85"/>
<line x1="398.80" y1="225.06" x2="403.00" y2="225.06" stroke="#1a1a1a" stroke-width="0.85"/>
<line x1="398.80" y1="229.05" x2="403.00" y2="229.05" stroke="#1a1a1a" stroke-width="0.85"/>
<line x1="413.20" y1="229.05" x2="413.20" y2="225.26" stroke="#1a1a1a" stroke-width="0.85"/>
<line x1="411.10" y1="225.26" x2="415.30" y2="225.26" stroke="#1a1a1a" stroke-width="0.85"/>
<line x1="411.10" y1="229.05" x2="415.30" y2="229.05" stroke="#1a1a1a" stroke-width="0.85"/>
<line x1="426.50" y1="223.77" x2="426.50" y2="206.52" stroke="#1a1a1a" stroke-width="0.85"/>
<line x1="424.40" y1="206.52" x2="428.60" y2="206.52" stroke="#1a1a1a" stroke-width="0.85"/>
<line x1="424.40" y1="223.77" x2="428.60" y2="223.77" stroke="#1a1a1a" stroke-width="0.85"/>
<line x1="439.50" y1="225.66" x2="439.50" y2="217.49" stroke="#1a1a1a" stroke-width="0.85"/>
<line x1="437.40" y1="217.49" x2="441.60" y2="217.49" stroke="#1a1a1a" stroke-width="0.85"/>
<line x1="437.40" y1="225.66" x2="441.60" y2="225.66" stroke="#1a1a1a" stroke-width="0.85"/>
<line x1="454.60" y1="217.29" x2="454.60" y2="201.03" stroke="#1a1a1a" stroke-width="0.85"/>
<line x1="452.50" y1="201.03" x2="456.70" y2="201.03" stroke="#1a1a1a" stroke-width="0.85"/>
<line x1="452.50" y1="217.29" x2="456.70" y2="217.29" stroke="#1a1a1a" stroke-width="0.85"/>
<line x1="467.40" y1="226.26" x2="467.40" y2="208.61" stroke="#1a1a1a" stroke-width="0.85"/>
<line x1="465.30" y1="208.61" x2="469.50" y2="208.61" stroke="#1a1a1a" stroke-width="0.85"/>
<line x1="465.30" y1="226.26" x2="469.50" y2="226.26" stroke="#1a1a1a" stroke-width="0.85"/>
<line x1="482.90" y1="216.19" x2="482.90" y2="170.03" stroke="#1a1a1a" stroke-width="0.85"/>
<line x1="480.80" y1="170.03" x2="485.00" y2="170.03" stroke="#1a1a1a" stroke-width="0.85"/>
<line x1="480.80" y1="216.19" x2="485.00" y2="216.19" stroke="#1a1a1a" stroke-width="0.85"/>
<line x1="495.50" y1="207.71" x2="495.50" y2="194.55" stroke="#1a1a1a" stroke-width="0.85"/>
<line x1="493.40" y1="194.55" x2="497.60" y2="194.55" stroke="#1a1a1a" stroke-width="0.85"/>
<line x1="493.40" y1="207.71" x2="497.60" y2="207.71" stroke="#1a1a1a" stroke-width="0.85"/>
<circle cx="400.90" cy="225.26" r="0.85" fill="#111"/>
<circle cx="398.70" cy="226.26" r="0.85" fill="#111"/>
<circle cx="400.90" cy="227.26" r="0.85" fill="#111"/>
<circle cx="398.70" cy="228.25" r="0.85" fill="#111"/>
<circle cx="403.10" cy="228.75" r="0.85" fill="#111"/>
<circle cx="413.20" cy="222.77" r="0.85" fill="#111"/>
<circle cx="413.20" cy="225.76" r="0.85" fill="#111"/>
<circle cx="411.00" cy="227.26" r="0.85" fill="#111"/>
<circle cx="413.20" cy="228.45" r="0.85" fill="#111"/>
<circle cx="415.40" cy="228.85" r="0.85" fill="#111"/>
<circle cx="426.50" cy="205.22" r="0.85" fill="#111"/>
<circle cx="426.50" cy="214.29" r="0.85" fill="#111"/>
<circle cx="426.50" cy="219.28" r="0.85" fill="#111"/>
<circle cx="426.50" cy="222.17" r="0.85" fill="#111"/>
<circle cx="424.50" cy="223.77" r="0.85" fill="#111"/>
<circle cx="439.50" cy="215.49" r="0.85" fill="#111"/>
<circle cx="439.50" cy="219.78" r="0.85" fill="#111"/>
<circle cx="439.50" cy="223.27" r="0.85" fill="#111"/>
<circle cx="439.50" cy="225.66" r="0.85" fill="#111"/>
<circle cx="437.50" cy="226.76" r="0.85" fill="#111"/>
<circle cx="454.60" cy="194.16" r="0.85" fill="#111"/>
<circle cx="454.60" cy="201.03" r="0.85" fill="#111"/>
<circle cx="452.60" cy="202.33" r="0.85" fill="#111"/>
<circle cx="454.60" cy="204.32" r="0.85" fill="#111"/>
<circle cx="454.60" cy="206.92" r="0.85" fill="#111"/>
<circle cx="454.60" cy="209.51" r="0.85" fill="#111"/>
<circle cx="454.60" cy="212.10" r="0.85" fill="#111"/>
<circle cx="454.60" cy="214.79" r="0.85" fill="#111"/>
<circle cx="454.60" cy="217.29" r="0.85" fill="#111"/>
<circle cx="454.60" cy="219.78" r="0.85" fill="#111"/>
<circle cx="467.40" cy="199.64" r="0.85" fill="#111"/>
<circle cx="467.40" cy="209.31" r="0.85" fill="#111"/>
<circle cx="465.00" cy="211.10" r="0.85" fill="#111"/>
<circle cx="467.40" cy="213.50" r="0.85" fill="#111"/>
<circle cx="467.40" cy="218.28" r="0.85" fill="#111"/>
<circle cx="467.40" cy="222.27" r="0.85" fill="#111"/>
<circle cx="465.00" cy="223.27" r="0.85" fill="#111"/>
<circle cx="467.40" cy="224.76" r="0.85" fill="#111"/>
<circle cx="469.80" cy="222.77" r="0.85" fill="#111"/>
<circle cx="482.90" cy="157.27" r="0.85" fill="#111"/>
<circle cx="482.90" cy="184.38" r="0.85" fill="#111"/>
<circle cx="482.90" cy="204.92" r="0.85" fill="#111"/>
<circle cx="482.90" cy="216.19" r="0.85" fill="#111"/>
<circle cx="495.50" cy="191.56" r="0.85" fill="#111"/>
<circle cx="495.50" cy="195.05" r="0.85" fill="#111"/>
<circle cx="495.50" cy="202.33" r="0.85" fill="#111"/>
<circle cx="495.50" cy="207.62" r="0.85" fill="#111"/>
<text x="451.25" y="145.47" font-size="6.9" text-anchor="middle" fill="#1c1c1c" stroke="#1c1c1c" stroke-width="0.02" textLength="46.8" lengthAdjust="spacingAndGlyphs">Plasma bitopertin</text>
<rect x="392.40" y="150.20" width="8.90" height="5.00" fill="#e5097f"/>
<text x="404.70" y="155.13" font-size="6.8" fill="#1c1c1c" textLength="34" lengthAdjust="spacingAndGlyphs">Control mice</text>
<rect x="392.40" y="158.80" width="8.90" height="5.20" fill="#8f80c0"/>
<text x="404.70" y="164.43" font-size="6.8" fill="#1c1c1c" textLength="36.9" lengthAdjust="spacingAndGlyphs">Rpl11<tspan font-size="3.74" dy="-2.58">+/−</tspan><tspan dy="2.58"> mice</tspan></text>
<text x="448.20" y="252.62" font-size="9" text-anchor="middle" fill="#1c1c1c" stroke="#1c1c1c" stroke-width="0.3" textLength="33.6" lengthAdjust="spacingAndGlyphs">ppm in chow</text>
<text x="0" y="0" font-size="8.3" text-anchor="middle" fill="#1c1c1c" stroke="#1c1c1c" stroke-width="0.15" textLength="15.1" lengthAdjust="spacingAndGlyphs" transform="translate(365.00 188.60) rotate(-90)">ng/ml</text>
<path d="M400.50,219.30 V215.80 H413.30 V219.30" fill="none" stroke="#252525" stroke-width="1.05"/>
<text x="406.90" y="213.76" font-size="6.6" text-anchor="middle" fill="#1c1c1c" stroke="#1c1c1c" stroke-width="0.05">ns</text>
<path d="M426.20,201.10 V197.50 H438.90 V201.10" fill="none" stroke="#252525" stroke-width="1.05"/>
<text x="432.55" y="194.76" font-size="6.6" text-anchor="middle" fill="#1c1c1c" stroke="#1c1c1c" stroke-width="0.05">ns</text>
<path d="M454.50,190.90 V187.00 H467.20 V190.90" fill="none" stroke="#252525" stroke-width="1.05"/>
<text x="460.85" y="184.26" font-size="6.6" text-anchor="middle" fill="#1c1c1c" stroke="#1c1c1c" stroke-width="0.05">ns</text>
<path d="M482.50,153.70 V150.00 H495.10 V153.70" fill="none" stroke="#252525" stroke-width="1.05"/>
<text x="488.80" y="147.76" font-size="6.6" text-anchor="middle" fill="#1c1c1c" stroke="#1c1c1c" stroke-width="0.05">ns</text>
<rect x="45.85" y="290.82" width="13.40" height="65.18" fill="#cf0a2c"/>
<rect x="60.55" y="287.86" width="13.40" height="68.14" fill="#cf0a2c"/>
<rect x="81.75" y="311.56" width="13.40" height="44.44" fill="#0c4b8e"/>
<rect x="96.65" y="303.86" width="13.40" height="52.14" fill="#0c4b8e"/>
<line x1="52.55" y1="290.82" x2="52.55" y2="288.45" stroke="#d04060" stroke-width="0.9"/>
<line x1="49.80" y1="288.45" x2="55.30" y2="288.45" stroke="#d04060" stroke-width="0.9"/>
<line x1="67.25" y1="287.86" x2="67.25" y2="286.38" stroke="#d04060" stroke-width="0.9"/>
<line x1="64.50" y1="286.38" x2="70.00" y2="286.38" stroke="#d04060" stroke-width="0.9"/>
<line x1="88.45" y1="311.56" x2="88.45" y2="309.19" stroke="#245896" stroke-width="0.9"/>
<line x1="85.70" y1="309.19" x2="91.20" y2="309.19" stroke="#245896" stroke-width="0.9"/>
<line x1="103.35" y1="303.86" x2="103.35" y2="301.49" stroke="#245896" stroke-width="0.9"/>
<line x1="100.60" y1="301.49" x2="106.10" y2="301.49" stroke="#245896" stroke-width="0.9"/>
<line x1="39.25" y1="279.25" x2="39.25" y2="356.45" stroke="#252525" stroke-width="0.9"/>
<line x1="36.25" y1="356.00" x2="39.25" y2="356.00" stroke="#252525" stroke-width="0.9"/>
<text x="34.45" y="358.29" font-size="6.4" text-anchor="end" fill="#1c1c1c" stroke="#1c1c1c" stroke-width="0.03">0</text>
<line x1="36.25" y1="326.38" x2="39.25" y2="326.38" stroke="#252525" stroke-width="0.9"/>
<text x="34.45" y="328.67" font-size="6.4" text-anchor="end" fill="#1c1c1c" stroke="#1c1c1c" stroke-width="0.03">5</text>
<line x1="36.25" y1="296.75" x2="39.25" y2="296.75" stroke="#252525" stroke-width="0.9"/>
<text x="34.45" y="299.04" font-size="6.4" text-anchor="end" fill="#1c1c1c" stroke="#1c1c1c" stroke-width="0.03">10</text>
<line x1="37.25" y1="341.19" x2="39.25" y2="341.19" stroke="#252525" stroke-width="0.8"/>
<line x1="37.25" y1="311.56" x2="39.25" y2="311.56" stroke="#252525" stroke-width="0.8"/>
<line x1="37.25" y1="281.94" x2="39.25" y2="281.94" stroke="#252525" stroke-width="0.8"/>
<line x1="39.25" y1="356.00" x2="112.50" y2="356.00" stroke="#252525" stroke-width="1.0"/>
<line x1="52.55" y1="356.00" x2="52.55" y2="358.20" stroke="#252525" stroke-width="0.9"/>
<text x="52.55" y="368.46" font-size="6.3" text-anchor="middle" fill="#1c1c1c">−</text>
<line x1="67.25" y1="356.00" x2="67.25" y2="358.20" stroke="#252525" stroke-width="0.9"/>
<text x="67.25" y="368.46" font-size="6.3" text-anchor="middle" fill="#1c1c1c">+</text>
<line x1="88.45" y1="356.00" x2="88.45" y2="358.20" stroke="#252525" stroke-width="0.9"/>
<text x="88.45" y="368.46" font-size="6.3" text-anchor="middle" fill="#1c1c1c">−</text>
<line x1="103.35" y1="356.00" x2="103.35" y2="358.20" stroke="#252525" stroke-width="0.9"/>
<text x="103.35" y="368.46" font-size="6.3" text-anchor="middle" fill="#1c1c1c">+</text>
<text x="78.05" y="274.11" font-size="6.6" text-anchor="middle" fill="#1c1c1c" stroke="#1c1c1c" stroke-width="0.05">RBC</text>
<text x="21.05" y="368.33" font-size="6.5" text-anchor="start" fill="#1c1c1c" textLength="26" lengthAdjust="spacingAndGlyphs">Bitopertin</text>
<text x="0" y="0" font-size="7.6" font-weight="bold" text-anchor="middle" fill="#1c1c1c" stroke="#1c1c1c" stroke-width="0.15" textLength="17" lengthAdjust="spacingAndGlyphs" transform="translate(21.30 317.20) rotate(-90)">10<tspan font-size="5" dy="-2.5">6</tspan><tspan dy="2.5">/μL</tspan></text>
<path d="M88.45,298.20 V295.00 H103.35 V298.20" fill="none" stroke="#252525" stroke-width="1.05"/>
<text x="95.90" y="292.65" font-size="6" text-anchor="middle" fill="#1c1c1c" stroke="#1c1c1c" stroke-width="0.05">**</text>
<rect x="173.60" y="288.47" width="13.40" height="67.53" fill="#cf0a2c"/>
<rect x="188.30" y="302.92" width="13.40" height="53.08" fill="#cf0a2c"/>
<rect x="209.50" y="323.39" width="13.40" height="32.61" fill="#0c4b8e"/>
<rect x="224.40" y="319.16" width="13.40" height="36.84" fill="#0c4b8e"/>
<line x1="180.30" y1="288.47" x2="180.30" y2="284.38" stroke="#d04060" stroke-width="0.9"/>
<line x1="177.55" y1="284.38" x2="183.05" y2="284.38" stroke="#d04060" stroke-width="0.9"/>
<line x1="195.00" y1="302.92" x2="195.00" y2="299.08" stroke="#d04060" stroke-width="0.9"/>
<line x1="192.25" y1="299.08" x2="197.75" y2="299.08" stroke="#d04060" stroke-width="0.9"/>
<line x1="216.20" y1="323.39" x2="216.20" y2="317.63" stroke="#245896" stroke-width="0.9"/>
<line x1="213.45" y1="317.63" x2="218.95" y2="317.63" stroke="#245896" stroke-width="0.9"/>
<line x1="231.10" y1="319.16" x2="231.10" y2="314.05" stroke="#245896" stroke-width="0.9"/>
<line x1="228.35" y1="314.05" x2="233.85" y2="314.05" stroke="#245896" stroke-width="0.9"/>
<line x1="167.00" y1="276.00" x2="167.00" y2="356.45" stroke="#252525" stroke-width="0.9"/>
<line x1="164.00" y1="356.00" x2="167.00" y2="356.00" stroke="#252525" stroke-width="0.9"/>
<text x="162.20" y="358.29" font-size="6.4" text-anchor="end" fill="#1c1c1c" stroke="#1c1c1c" stroke-width="0.03">10</text>
<line x1="164.00" y1="330.42" x2="167.00" y2="330.42" stroke="#252525" stroke-width="0.9"/>
<text x="162.20" y="332.71" font-size="6.4" text-anchor="end" fill="#1c1c1c" stroke="#1c1c1c" stroke-width="0.03">12</text>
<line x1="164.00" y1="304.84" x2="167.00" y2="304.84" stroke="#252525" stroke-width="0.9"/>
<text x="162.20" y="307.13" font-size="6.4" text-anchor="end" fill="#1c1c1c" stroke="#1c1c1c" stroke-width="0.03">14</text>
<line x1="164.00" y1="279.26" x2="167.00" y2="279.26" stroke="#252525" stroke-width="0.9"/>
<text x="162.20" y="281.55" font-size="6.4" text-anchor="end" fill="#1c1c1c" stroke="#1c1c1c" stroke-width="0.03">16</text>
<line x1="167.00" y1="356.00" x2="245.00" y2="356.00" stroke="#252525" stroke-width="1.0"/>
<line x1="180.30" y1="356.00" x2="180.30" y2="358.20" stroke="#252525" stroke-width="0.9"/>
<text x="180.30" y="368.46" font-size="6.3" text-anchor="middle" fill="#1c1c1c">−</text>
<line x1="195.00" y1="356.00" x2="195.00" y2="358.20" stroke="#252525" stroke-width="0.9"/>
<text x="195.00" y="368.46" font-size="6.3" text-anchor="middle" fill="#1c1c1c">+</text>
<line x1="216.20" y1="356.00" x2="216.20" y2="358.20" stroke="#252525" stroke-width="0.9"/>
<text x="216.20" y="368.46" font-size="6.3" text-anchor="middle" fill="#1c1c1c">−</text>
<line x1="231.10" y1="356.00" x2="231.10" y2="358.20" stroke="#252525" stroke-width="0.9"/>
<text x="231.10" y="368.46" font-size="6.3" text-anchor="middle" fill="#1c1c1c">+</text>
<text x="205.80" y="274.11" font-size="6.6" text-anchor="middle" fill="#1c1c1c" stroke="#1c1c1c" stroke-width="0.05">HGB</text>
<text x="148.80" y="368.33" font-size="6.5" text-anchor="start" fill="#1c1c1c" textLength="26" lengthAdjust="spacingAndGlyphs">Bitopertin</text>
<text x="0" y="0" font-size="7.6" font-weight="bold" text-anchor="middle" fill="#1c1c1c" stroke="#1c1c1c" stroke-width="0.15" textLength="12.2" lengthAdjust="spacingAndGlyphs" transform="translate(149.80 315.50) rotate(-90)">g/dL</text>
<rect x="288.60" y="297.85" width="13.40" height="58.15" fill="#cf0a2c"/>
<rect x="303.30" y="300.35" width="13.40" height="55.65" fill="#cf0a2c"/>
<rect x="324.50" y="314.74" width="13.40" height="41.26" fill="#0c4b8e"/>
<rect x="339.40" y="307.64" width="13.40" height="48.36" fill="#0c4b8e"/>
<line x1="295.30" y1="297.85" x2="295.30" y2="294.59" stroke="#d04060" stroke-width="0.9"/>
<line x1="292.55" y1="294.59" x2="298.05" y2="294.59" stroke="#d04060" stroke-width="0.9"/>
<line x1="310.00" y1="300.35" x2="310.00" y2="298.43" stroke="#d04060" stroke-width="0.9"/>
<line x1="307.25" y1="298.43" x2="312.75" y2="298.43" stroke="#d04060" stroke-width="0.9"/>
<line x1="331.20" y1="314.74" x2="331.20" y2="311.86" stroke="#245896" stroke-width="0.9"/>
<line x1="328.45" y1="311.86" x2="333.95" y2="311.86" stroke="#245896" stroke-width="0.9"/>
<line x1="346.10" y1="307.64" x2="346.10" y2="304.95" stroke="#245896" stroke-width="0.9"/>
<line x1="343.35" y1="304.95" x2="348.85" y2="304.95" stroke="#245896" stroke-width="0.9"/>
<line x1="282.00" y1="276.00" x2="282.00" y2="356.45" stroke="#252525" stroke-width="0.9"/>
<line x1="279.00" y1="356.00" x2="282.00" y2="356.00" stroke="#252525" stroke-width="0.9"/>
<text x="277.20" y="358.29" font-size="6.4" text-anchor="end" fill="#1c1c1c" stroke="#1c1c1c" stroke-width="0.03">20</text>
<line x1="279.00" y1="336.81" x2="282.00" y2="336.81" stroke="#252525" stroke-width="0.9"/>
<text x="277.20" y="339.10" font-size="6.4" text-anchor="end" fill="#1c1c1c" stroke="#1c1c1c" stroke-width="0.03">30</text>
<line x1="279.00" y1="317.62" x2="282.00" y2="317.62" stroke="#252525" stroke-width="0.9"/>
<text x="277.20" y="319.91" font-size="6.4" text-anchor="end" fill="#1c1c1c" stroke="#1c1c1c" stroke-width="0.03">40</text>
<line x1="279.00" y1="298.43" x2="282.00" y2="298.43" stroke="#252525" stroke-width="0.9"/>
<text x="277.20" y="300.72" font-size="6.4" text-anchor="end" fill="#1c1c1c" stroke="#1c1c1c" stroke-width="0.03">50</text>
<line x1="279.00" y1="279.24" x2="282.00" y2="279.24" stroke="#252525" stroke-width="0.9"/>
<text x="277.20" y="281.53" font-size="6.4" text-anchor="end" fill="#1c1c1c" stroke="#1c1c1c" stroke-width="0.03">60</text>
<line x1="282.00" y1="356.00" x2="359.50" y2="356.00" stroke="#252525" stroke-width="1.0"/>
<line x1="295.30" y1="356.00" x2="295.30" y2="358.20" stroke="#252525" stroke-width="0.9"/>
<text x="295.30" y="368.46" font-size="6.3" text-anchor="middle" fill="#1c1c1c">−</text>
<line x1="310.00" y1="356.00" x2="310.00" y2="358.20" stroke="#252525" stroke-width="0.9"/>
<text x="310.00" y="368.46" font-size="6.3" text-anchor="middle" fill="#1c1c1c">+</text>
<line x1="331.20" y1="356.00" x2="331.20" y2="358.20" stroke="#252525" stroke-width="0.9"/>
<text x="331.20" y="368.46" font-size="6.3" text-anchor="middle" fill="#1c1c1c">−</text>
<line x1="346.10" y1="356.00" x2="346.10" y2="358.20" stroke="#252525" stroke-width="0.9"/>
<text x="346.10" y="368.46" font-size="6.3" text-anchor="middle" fill="#1c1c1c">+</text>
<text x="320.80" y="274.11" font-size="6.6" text-anchor="middle" fill="#1c1c1c" stroke="#1c1c1c" stroke-width="0.05">HCT</text>
<text x="263.80" y="368.33" font-size="6.5" text-anchor="start" fill="#1c1c1c" textLength="26" lengthAdjust="spacingAndGlyphs">Bitopertin</text>
<text x="0" y="0" font-size="7" font-weight="normal" text-anchor="middle" fill="#1c1c1c" stroke="#1c1c1c" stroke-width="0.15" textLength="5.6" lengthAdjust="spacingAndGlyphs" transform="translate(265.00 315.90) rotate(-90)">%</text>
<path d="M331.20,301.70 V298.00 H346.10 V301.70" fill="none" stroke="#252525" stroke-width="1.05"/>
<text x="338.65" y="296.65" font-size="6" text-anchor="middle" fill="#1c1c1c" stroke="#1c1c1c" stroke-width="0.05">*</text>
<rect x="402.85" y="316.55" width="13.40" height="39.65" fill="#cf0a2c"/>
<rect x="417.55" y="322.36" width="13.40" height="33.84" fill="#cf0a2c"/>
<rect x="438.75" y="297.21" width="13.40" height="58.99" fill="#0c4b8e"/>
<rect x="453.65" y="304.37" width="13.40" height="51.83" fill="#0c4b8e"/>
<line x1="409.55" y1="316.55" x2="409.55" y2="314.23" stroke="#d04060" stroke-width="0.9"/>
<line x1="406.80" y1="314.23" x2="412.30" y2="314.23" stroke="#d04060" stroke-width="0.9"/>
<line x1="424.25" y1="322.36" x2="424.25" y2="320.03" stroke="#d04060" stroke-width="0.9"/>
<line x1="421.50" y1="320.03" x2="427.00" y2="320.03" stroke="#d04060" stroke-width="0.9"/>
<line x1="445.45" y1="297.21" x2="445.45" y2="294.70" stroke="#245896" stroke-width="0.9"/>
<line x1="442.70" y1="294.70" x2="448.20" y2="294.70" stroke="#245896" stroke-width="0.9"/>
<line x1="460.35" y1="304.37" x2="460.35" y2="302.05" stroke="#245896" stroke-width="0.9"/>
<line x1="457.60" y1="302.05" x2="463.10" y2="302.05" stroke="#245896" stroke-width="0.9"/>
<line x1="396.25" y1="285.80" x2="396.25" y2="356.65" stroke="#252525" stroke-width="0.9"/>
<line x1="393.25" y1="346.53" x2="396.25" y2="346.53" stroke="#252525" stroke-width="0.9"/>
<text x="391.45" y="348.82" font-size="6.4" text-anchor="end" fill="#1c1c1c" stroke="#1c1c1c" stroke-width="0.03">30</text>
<line x1="393.25" y1="327.19" x2="396.25" y2="327.19" stroke="#252525" stroke-width="0.9"/>
<text x="391.45" y="329.48" font-size="6.4" text-anchor="end" fill="#1c1c1c" stroke="#1c1c1c" stroke-width="0.03">40</text>
<line x1="393.25" y1="307.85" x2="396.25" y2="307.85" stroke="#252525" stroke-width="0.9"/>
<text x="391.45" y="310.14" font-size="6.4" text-anchor="end" fill="#1c1c1c" stroke="#1c1c1c" stroke-width="0.03">50</text>
<line x1="393.25" y1="288.51" x2="396.25" y2="288.51" stroke="#252525" stroke-width="0.9"/>
<text x="391.45" y="290.80" font-size="6.4" text-anchor="end" fill="#1c1c1c" stroke="#1c1c1c" stroke-width="0.03">60</text>
<line x1="396.25" y1="356.20" x2="481.25" y2="356.20" stroke="#252525" stroke-width="1.0"/>
<line x1="409.55" y1="356.20" x2="409.55" y2="358.40" stroke="#252525" stroke-width="0.9"/>
<text x="409.55" y="368.46" font-size="6.3" text-anchor="middle" fill="#1c1c1c">−</text>
<line x1="424.25" y1="356.20" x2="424.25" y2="358.40" stroke="#252525" stroke-width="0.9"/>
<text x="424.25" y="368.46" font-size="6.3" text-anchor="middle" fill="#1c1c1c">+</text>
<line x1="445.45" y1="356.20" x2="445.45" y2="358.40" stroke="#252525" stroke-width="0.9"/>
<text x="445.45" y="368.46" font-size="6.3" text-anchor="middle" fill="#1c1c1c">−</text>
<line x1="460.35" y1="356.20" x2="460.35" y2="358.40" stroke="#252525" stroke-width="0.9"/>
<text x="460.35" y="368.46" font-size="6.3" text-anchor="middle" fill="#1c1c1c">+</text>
<text x="435.05" y="274.11" font-size="6.6" text-anchor="middle" fill="#1c1c1c" stroke="#1c1c1c" stroke-width="0.05">MCV</text>
<text x="378.05" y="368.33" font-size="6.5" text-anchor="start" fill="#1c1c1c" textLength="26" lengthAdjust="spacingAndGlyphs">Bitopertin</text>
<text x="0" y="0" font-size="7" font-weight="normal" text-anchor="middle" fill="#1c1c1c" stroke="#1c1c1c" stroke-width="0.15" textLength="5.0" lengthAdjust="spacingAndGlyphs" transform="translate(377.60 321.20) rotate(-90)">fL</text>
<path d="M445.45,291.70 V287.50 H460.35 V291.70" fill="none" stroke="#252525" stroke-width="1.05"/>
<text x="452.90" y="285.45" font-size="6" text-anchor="middle" fill="#1c1c1c" stroke="#1c1c1c" stroke-width="0.05">**</text>
<rect x="466.00" y="271.30" width="9.00" height="5.50" fill="#cf0a2c"/>
<text x="477.90" y="276.63" font-size="6.8" fill="#1c1c1c" textLength="34" lengthAdjust="spacingAndGlyphs">Control mice</text>
<rect x="466.00" y="280.00" width="9.00" height="5.20" fill="#0c4b8e"/>
<text x="477.90" y="285.63" font-size="6.8" fill="#1c1c1c" textLength="36.3" lengthAdjust="spacingAndGlyphs">Rpl11<tspan font-size="3.74" dy="-2.58">+/−</tspan><tspan dy="2.58"> mice</tspan></text>
<rect x="45.00" y="510.07" width="7.50" height="3.68" fill="#e8857a"/>
<rect x="55.00" y="511.29" width="7.50" height="2.46" fill="#8e98c2"/>
<rect x="65.00" y="510.07" width="7.50" height="3.68" fill="#0d4a8a"/>
<rect x="83.90" y="497.54" width="7.50" height="16.21" fill="#e8857a"/>
<rect x="93.90" y="489.58" width="7.50" height="24.17" fill="#8e98c2"/>
<rect x="103.90" y="497.54" width="7.50" height="16.21" fill="#0d4a8a"/>
<rect x="122.65" y="501.32" width="7.50" height="12.43" fill="#e8857a"/>
<rect x="132.65" y="486.24" width="7.50" height="27.51" fill="#8e98c2"/>
<rect x="142.65" y="496.26" width="7.50" height="17.49" fill="#0d4a8a"/>
<rect x="161.25" y="487.96" width="7.50" height="25.79" fill="#e8857a"/>
<rect x="171.25" y="479.85" width="7.50" height="33.90" fill="#8e98c2"/>
<rect x="181.25" y="493.12" width="7.50" height="20.63" fill="#0d4a8a"/>
<rect x="200.35" y="458.48" width="7.50" height="55.27" fill="#e8857a"/>
<rect x="210.35" y="446.94" width="7.50" height="66.81" fill="#8e98c2"/>
<rect x="220.35" y="472.49" width="7.50" height="41.26" fill="#0d4a8a"/>
<line x1="48.75" y1="510.07" x2="48.75" y2="505.15" stroke="#eb9e94" stroke-width="0.9"/>
<line x1="46.95" y1="505.15" x2="50.55" y2="505.15" stroke="#eb9e94" stroke-width="0.9"/>
<line x1="58.75" y1="511.29" x2="58.75" y2="508.10" stroke="#9ea6c8" stroke-width="0.9"/>
<line x1="56.95" y1="508.10" x2="60.55" y2="508.10" stroke="#9ea6c8" stroke-width="0.9"/>
<line x1="68.75" y1="510.07" x2="68.75" y2="508.25" stroke="#2a5a95" stroke-width="0.9"/>
<line x1="66.95" y1="508.25" x2="70.55" y2="508.25" stroke="#2a5a95" stroke-width="0.9"/>
<line x1="87.65" y1="497.54" x2="87.65" y2="491.25" stroke="#eb9e94" stroke-width="0.9"/>
<line x1="85.85" y1="491.25" x2="89.45" y2="491.25" stroke="#eb9e94" stroke-width="0.9"/>
<line x1="97.65" y1="489.58" x2="97.65" y2="481.33" stroke="#9ea6c8" stroke-width="0.9"/>
<line x1="95.85" y1="481.33" x2="99.45" y2="481.33" stroke="#9ea6c8" stroke-width="0.9"/>
<line x1="107.65" y1="497.54" x2="107.65" y2="483.29" stroke="#2a5a95" stroke-width="0.9"/>
<line x1="105.85" y1="483.29" x2="109.45" y2="483.29" stroke="#2a5a95" stroke-width="0.9"/>
<line x1="126.40" y1="501.32" x2="126.40" y2="497.05" stroke="#eb9e94" stroke-width="0.9"/>
<line x1="124.60" y1="497.05" x2="128.20" y2="497.05" stroke="#eb9e94" stroke-width="0.9"/>
<line x1="136.40" y1="486.24" x2="136.40" y2="471.26" stroke="#9ea6c8" stroke-width="0.9"/>
<line x1="134.60" y1="471.26" x2="138.20" y2="471.26" stroke="#9ea6c8" stroke-width="0.9"/>
<line x1="146.40" y1="496.26" x2="146.40" y2="480.84" stroke="#2a5a95" stroke-width="0.9"/>
<line x1="144.60" y1="480.84" x2="148.20" y2="480.84" stroke="#2a5a95" stroke-width="0.9"/>
<line x1="165.00" y1="487.96" x2="165.00" y2="481.33" stroke="#eb9e94" stroke-width="0.9"/>
<line x1="163.20" y1="481.33" x2="166.80" y2="481.33" stroke="#eb9e94" stroke-width="0.9"/>
<line x1="175.00" y1="479.85" x2="175.00" y2="471.99" stroke="#9ea6c8" stroke-width="0.9"/>
<line x1="173.20" y1="471.99" x2="176.80" y2="471.99" stroke="#9ea6c8" stroke-width="0.9"/>
<line x1="185.00" y1="493.12" x2="185.00" y2="478.38" stroke="#2a5a95" stroke-width="0.9"/>
<line x1="183.20" y1="478.38" x2="186.80" y2="478.38" stroke="#2a5a95" stroke-width="0.9"/>
<line x1="204.10" y1="458.48" x2="204.10" y2="449.89" stroke="#eb9e94" stroke-width="0.9"/>
<line x1="202.30" y1="449.89" x2="205.90" y2="449.89" stroke="#eb9e94" stroke-width="0.9"/>
<line x1="214.10" y1="446.94" x2="214.10" y2="436.13" stroke="#9ea6c8" stroke-width="0.9"/>
<line x1="212.30" y1="436.13" x2="215.90" y2="436.13" stroke="#9ea6c8" stroke-width="0.9"/>
<line x1="224.10" y1="472.49" x2="224.10" y2="444.98" stroke="#2a5a95" stroke-width="0.9"/>
<line x1="222.30" y1="444.98" x2="225.90" y2="444.98" stroke="#2a5a95" stroke-width="0.9"/>
<line x1="38.75" y1="412.90" x2="38.75" y2="514.20" stroke="#252525" stroke-width="0.9"/>
<line x1="35.75" y1="513.75" x2="38.75" y2="513.75" stroke="#252525" stroke-width="0.9"/>
<text x="32.75" y="516.01" font-size="6.3" text-anchor="end" fill="#1c1c1c" stroke="#1c1c1c" stroke-width="0.18">0</text>
<line x1="35.75" y1="489.19" x2="38.75" y2="489.19" stroke="#252525" stroke-width="0.9"/>
<text x="32.75" y="491.44" font-size="6.3" text-anchor="end" fill="#1c1c1c" stroke="#1c1c1c" stroke-width="0.18">500</text>
<line x1="35.75" y1="464.62" x2="38.75" y2="464.62" stroke="#252525" stroke-width="0.9"/>
<text x="32.75" y="466.88" font-size="6.3" text-anchor="end" fill="#1c1c1c" stroke="#1c1c1c" stroke-width="0.18">1000</text>
<line x1="35.75" y1="440.06" x2="38.75" y2="440.06" stroke="#252525" stroke-width="0.9"/>
<text x="32.75" y="442.32" font-size="6.3" text-anchor="end" fill="#1c1c1c" stroke="#1c1c1c" stroke-width="0.18">1500</text>
<line x1="35.75" y1="415.50" x2="38.75" y2="415.50" stroke="#252525" stroke-width="0.9"/>
<text x="32.75" y="417.76" font-size="6.3" text-anchor="end" fill="#1c1c1c" stroke="#1c1c1c" stroke-width="0.18">2000</text>
<line x1="36.75" y1="501.47" x2="38.75" y2="501.47" stroke="#252525" stroke-width="0.8"/>
<line x1="36.75" y1="476.91" x2="38.75" y2="476.91" stroke="#252525" stroke-width="0.8"/>
<line x1="36.75" y1="452.34" x2="38.75" y2="452.34" stroke="#252525" stroke-width="0.8"/>
<line x1="36.75" y1="427.78" x2="38.75" y2="427.78" stroke="#252525" stroke-width="0.8"/>
<line x1="38.75" y1="513.75" x2="234.70" y2="513.75" stroke="#252525" stroke-width="1.0"/>
<line x1="58.75" y1="513.75" x2="58.75" y2="515.95" stroke="#252525" stroke-width="0.9"/>
<text x="58.75" y="524.86" font-size="6.3" text-anchor="middle" fill="#1c1c1c" stroke="#1c1c1c" stroke-width="0.18">I</text>
<line x1="97.65" y1="513.75" x2="97.65" y2="515.95" stroke="#252525" stroke-width="0.9"/>
<text x="97.65" y="524.86" font-size="6.3" text-anchor="middle" fill="#1c1c1c" stroke="#1c1c1c" stroke-width="0.18">II</text>
<line x1="136.40" y1="513.75" x2="136.40" y2="515.95" stroke="#252525" stroke-width="0.9"/>
<text x="136.40" y="524.86" font-size="6.3" text-anchor="middle" fill="#1c1c1c" stroke="#1c1c1c" stroke-width="0.18">III</text>
<line x1="175.00" y1="513.75" x2="175.00" y2="515.95" stroke="#252525" stroke-width="0.9"/>
<text x="175.00" y="524.86" font-size="6.3" text-anchor="middle" fill="#1c1c1c" stroke="#1c1c1c" stroke-width="0.18">IV</text>
<line x1="214.10" y1="513.75" x2="214.10" y2="515.95" stroke="#252525" stroke-width="0.9"/>
<text x="214.10" y="524.86" font-size="6.3" text-anchor="middle" fill="#1c1c1c" stroke="#1c1c1c" stroke-width="0.18">V</text>
<text x="137.00" y="411.37" font-size="6.9" text-anchor="middle" fill="#1c1c1c" stroke="#1c1c1c" stroke-width="0.05" textLength="38.4" lengthAdjust="spacingAndGlyphs">Heme content</text>
<text x="137.00" y="536.66" font-size="7.7" text-anchor="middle" fill="#1c1c1c" stroke="#1c1c1c" stroke-width="0.35" textLength="52.3" lengthAdjust="spacingAndGlyphs">Erythroid precursors</text>
<text x="0" y="0" font-size="7.6" text-anchor="middle" fill="#1c1c1c" stroke="#1c1c1c" stroke-width="0.35" textLength="30.2" lengthAdjust="spacingAndGlyphs" transform="translate(12.10 463.70) rotate(-90)">ng/10<tspan font-size="4.8" dy="-2.4">6</tspan><tspan dy="2.4"> cells</tspan></text>
<path d="M87.20,478.20 V474.70 H97.65 V478.20" fill="none" stroke="#252525" stroke-width="1.05"/>
<text x="92.43" y="473.95" font-size="6" text-anchor="middle" fill="#1c1c1c" stroke="#1c1c1c" stroke-width="0.05">*</text>
<path d="M86.70,462.10 V458.10 H108.10 V462.10" fill="none" stroke="#252525" stroke-width="1.05"/>
<text x="97.40" y="454.96" font-size="6.6" text-anchor="middle" fill="#1c1c1c" stroke="#1c1c1c" stroke-width="0.05">ns</text>
<path d="M100.60,445.00 V441.50 H109.30 V445.00" fill="none" stroke="#252525" stroke-width="1.05"/>
<text x="104.95" y="438.16" font-size="6.6" text-anchor="middle" fill="#1c1c1c" stroke="#1c1c1c" stroke-width="0.05">ns</text>
<path d="M126.40,466.00 V461.60 H136.50 V466.00" fill="none" stroke="#252525" stroke-width="1.05"/>
<text x="131.45" y="460.75" font-size="6" text-anchor="middle" fill="#1c1c1c" stroke="#1c1c1c" stroke-width="0.05">*</text>
<path d="M125.90,452.90 V449.40 H147.30 V452.90" fill="none" stroke="#252525" stroke-width="1.05"/>
<text x="136.60" y="446.36" font-size="6.6" text-anchor="middle" fill="#1c1c1c" stroke="#1c1c1c" stroke-width="0.05">ns</text>
<path d="M138.60,434.60 V431.10 H147.30 V434.60" fill="none" stroke="#252525" stroke-width="1.05"/>
<text x="142.95" y="428.06" font-size="6.6" text-anchor="middle" fill="#1c1c1c" stroke="#1c1c1c" stroke-width="0.05">ns</text>
<path d="M165.30,468.60 V464.20 H175.00 V468.60" fill="none" stroke="#252525" stroke-width="1.05"/>
<text x="170.15" y="463.55" font-size="6" text-anchor="middle" fill="#1c1c1c" stroke="#1c1c1c" stroke-width="0.05">*</text>
<path d="M165.30,453.80 V449.30 H186.40 V453.80" fill="none" stroke="#252525" stroke-width="1.05"/>
<text x="175.85" y="446.26" font-size="6.6" text-anchor="middle" fill="#1c1c1c" stroke="#1c1c1c" stroke-width="0.05">ns</text>
<path d="M176.90,436.40 V432.60 H185.90 V436.40" fill="none" stroke="#252525" stroke-width="1.05"/>
<text x="181.40" y="431.75" font-size="6" text-anchor="middle" fill="#1c1c1c" stroke="#1c1c1c" stroke-width="0.05">*</text>
<path d="M204.60,432.60 V428.20 H214.70 V432.60" fill="none" stroke="#252525" stroke-width="1.05"/>
<text x="209.65" y="427.55" font-size="6" text-anchor="middle" fill="#1c1c1c" stroke="#1c1c1c" stroke-width="0.05">*</text>
<path d="M203.90,419.70 V415.30 H224.40 V419.70" fill="none" stroke="#252525" stroke-width="1.05"/>
<text x="214.15" y="412.26" font-size="6.6" text-anchor="middle" fill="#1c1c1c" stroke="#1c1c1c" stroke-width="0.05">ns</text>
<path d="M215.40,400.40 V396.60 H223.90 V400.40" fill="none" stroke="#252525" stroke-width="1.05"/>
<text x="219.65" y="396.05" font-size="6" text-anchor="middle" fill="#1c1c1c" stroke="#1c1c1c" stroke-width="0.05">*</text>
<rect x="297.05" y="461.77" width="7.50" height="51.43" fill="#e8857a"/>
<rect x="307.05" y="446.15" width="7.50" height="67.05" fill="#8e98c2"/>
<rect x="317.05" y="470.67" width="7.50" height="42.53" fill="#0d4a8a"/>
<rect x="336.65" y="478.19" width="7.50" height="35.01" fill="#e8857a"/>
<rect x="346.65" y="457.22" width="7.50" height="55.98" fill="#8e98c2"/>
<rect x="356.65" y="484.32" width="7.50" height="28.88" fill="#0d4a8a"/>
<rect x="376.25" y="498.56" width="7.50" height="14.64" fill="#e8857a"/>
<rect x="386.25" y="488.08" width="7.50" height="25.12" fill="#8e98c2"/>
<rect x="396.25" y="501.53" width="7.50" height="11.67" fill="#0d4a8a"/>
<rect x="415.35" y="509.24" width="7.50" height="3.96" fill="#e8857a"/>
<rect x="425.35" y="506.87" width="7.50" height="6.33" fill="#8e98c2"/>
<rect x="435.35" y="509.24" width="7.50" height="3.96" fill="#0d4a8a"/>
<rect x="455.15" y="509.84" width="7.50" height="3.36" fill="#e8857a"/>
<rect x="465.15" y="508.85" width="7.50" height="4.35" fill="#8e98c2"/>
<rect x="475.15" y="511.22" width="7.50" height="1.98" fill="#0d4a8a"/>
<line x1="300.80" y1="461.77" x2="300.80" y2="423.20" stroke="#eb9e94" stroke-width="0.9"/>
<line x1="299.00" y1="423.20" x2="302.60" y2="423.20" stroke="#eb9e94" stroke-width="0.9"/>
<line x1="310.80" y1="446.15" x2="310.80" y2="422.41" stroke="#9ea6c8" stroke-width="0.9"/>
<line x1="309.00" y1="422.41" x2="312.60" y2="422.41" stroke="#9ea6c8" stroke-width="0.9"/>
<line x1="320.80" y1="470.67" x2="320.80" y2="458.41" stroke="#2a5a95" stroke-width="0.9"/>
<line x1="319.00" y1="458.41" x2="322.60" y2="458.41" stroke="#2a5a95" stroke-width="0.9"/>
<line x1="340.40" y1="478.19" x2="340.40" y2="457.42" stroke="#eb9e94" stroke-width="0.9"/>
<line x1="338.60" y1="457.42" x2="342.20" y2="457.42" stroke="#eb9e94" stroke-width="0.9"/>
<line x1="350.40" y1="457.22" x2="350.40" y2="435.66" stroke="#9ea6c8" stroke-width="0.9"/>
<line x1="348.60" y1="435.66" x2="352.20" y2="435.66" stroke="#9ea6c8" stroke-width="0.9"/>
<line x1="360.40" y1="484.32" x2="360.40" y2="473.64" stroke="#2a5a95" stroke-width="0.9"/>
<line x1="358.60" y1="473.64" x2="362.20" y2="473.64" stroke="#2a5a95" stroke-width="0.9"/>
<line x1="380.00" y1="498.56" x2="380.00" y2="490.06" stroke="#eb9e94" stroke-width="0.9"/>
<line x1="378.20" y1="490.06" x2="381.80" y2="490.06" stroke="#eb9e94" stroke-width="0.9"/>
<line x1="390.00" y1="488.08" x2="390.00" y2="474.23" stroke="#9ea6c8" stroke-width="0.9"/>
<line x1="388.20" y1="474.23" x2="391.80" y2="474.23" stroke="#9ea6c8" stroke-width="0.9"/>
<line x1="400.00" y1="501.53" x2="400.00" y2="495.99" stroke="#2a5a95" stroke-width="0.9"/>
<line x1="398.20" y1="495.99" x2="401.80" y2="495.99" stroke="#2a5a95" stroke-width="0.9"/>
<line x1="419.10" y1="509.24" x2="419.10" y2="507.27" stroke="#eb9e94" stroke-width="0.9"/>
<line x1="417.30" y1="507.27" x2="420.90" y2="507.27" stroke="#eb9e94" stroke-width="0.9"/>
<line x1="429.10" y1="506.87" x2="429.10" y2="504.30" stroke="#9ea6c8" stroke-width="0.9"/>
<line x1="427.30" y1="504.30" x2="430.90" y2="504.30" stroke="#9ea6c8" stroke-width="0.9"/>
<line x1="439.10" y1="509.24" x2="439.10" y2="507.27" stroke="#2a5a95" stroke-width="0.9"/>
<line x1="437.30" y1="507.27" x2="440.90" y2="507.27" stroke="#2a5a95" stroke-width="0.9"/>
<line x1="458.90" y1="509.84" x2="458.90" y2="508.06" stroke="#eb9e94" stroke-width="0.9"/>
<line x1="457.10" y1="508.06" x2="460.70" y2="508.06" stroke="#eb9e94" stroke-width="0.9"/>
<line x1="468.90" y1="508.85" x2="468.90" y2="505.49" stroke="#9ea6c8" stroke-width="0.9"/>
<line x1="467.10" y1="505.49" x2="470.70" y2="505.49" stroke="#9ea6c8" stroke-width="0.9"/>
<line x1="478.90" y1="511.22" x2="478.90" y2="509.24" stroke="#2a5a95" stroke-width="0.9"/>
<line x1="477.10" y1="509.24" x2="480.70" y2="509.24" stroke="#2a5a95" stroke-width="0.9"/>
<line x1="290.90" y1="410.80" x2="290.90" y2="513.65" stroke="#252525" stroke-width="0.9"/>
<line x1="287.90" y1="513.20" x2="290.90" y2="513.20" stroke="#252525" stroke-width="0.9"/>
<text x="284.90" y="515.46" font-size="6.3" text-anchor="end" fill="#1c1c1c" stroke="#1c1c1c" stroke-width="0.18">0</text>
<line x1="287.90" y1="493.42" x2="290.90" y2="493.42" stroke="#252525" stroke-width="0.9"/>
<text x="284.90" y="495.68" font-size="6.3" text-anchor="end" fill="#1c1c1c" stroke="#1c1c1c" stroke-width="0.18">1000</text>
<line x1="287.90" y1="473.64" x2="290.90" y2="473.64" stroke="#252525" stroke-width="0.9"/>
<text x="284.90" y="475.90" font-size="6.3" text-anchor="end" fill="#1c1c1c" stroke="#1c1c1c" stroke-width="0.18">2000</text>
<line x1="287.90" y1="453.86" x2="290.90" y2="453.86" stroke="#252525" stroke-width="0.9"/>
<text x="284.90" y="456.12" font-size="6.3" text-anchor="end" fill="#1c1c1c" stroke="#1c1c1c" stroke-width="0.18">3000</text>
<line x1="287.90" y1="434.08" x2="290.90" y2="434.08" stroke="#252525" stroke-width="0.9"/>
<text x="284.90" y="436.34" font-size="6.3" text-anchor="end" fill="#1c1c1c" stroke="#1c1c1c" stroke-width="0.18">4000</text>
<line x1="287.90" y1="414.30" x2="290.90" y2="414.30" stroke="#252525" stroke-width="0.9"/>
<text x="284.90" y="416.56" font-size="6.3" text-anchor="end" fill="#1c1c1c" stroke="#1c1c1c" stroke-width="0.18">5000</text>
<line x1="288.90" y1="503.31" x2="290.90" y2="503.31" stroke="#252525" stroke-width="0.8"/>
<line x1="288.90" y1="483.53" x2="290.90" y2="483.53" stroke="#252525" stroke-width="0.8"/>
<line x1="288.90" y1="463.75" x2="290.90" y2="463.75" stroke="#252525" stroke-width="0.8"/>
<line x1="288.90" y1="443.97" x2="290.90" y2="443.97" stroke="#252525" stroke-width="0.8"/>
<line x1="288.90" y1="424.19" x2="290.90" y2="424.19" stroke="#252525" stroke-width="0.8"/>
<line x1="290.90" y1="513.20" x2="489.50" y2="513.20" stroke="#252525" stroke-width="1.0"/>
<line x1="310.80" y1="513.20" x2="310.80" y2="515.40" stroke="#252525" stroke-width="0.9"/>
<text x="310.80" y="524.86" font-size="6.3" text-anchor="middle" fill="#1c1c1c" stroke="#1c1c1c" stroke-width="0.18">I</text>
<line x1="350.40" y1="513.20" x2="350.40" y2="515.40" stroke="#252525" stroke-width="0.9"/>
<text x="350.40" y="524.86" font-size="6.3" text-anchor="middle" fill="#1c1c1c" stroke="#1c1c1c" stroke-width="0.18">II</text>
<line x1="390.00" y1="513.20" x2="390.00" y2="515.40" stroke="#252525" stroke-width="0.9"/>
<text x="390.00" y="524.86" font-size="6.3" text-anchor="middle" fill="#1c1c1c" stroke="#1c1c1c" stroke-width="0.18">III</text>
<line x1="429.10" y1="513.20" x2="429.10" y2="515.40" stroke="#252525" stroke-width="0.9"/>
<text x="429.10" y="524.86" font-size="6.3" text-anchor="middle" fill="#1c1c1c" stroke="#1c1c1c" stroke-width="0.18">IV</text>
<line x1="468.90" y1="513.20" x2="468.90" y2="515.40" stroke="#252525" stroke-width="0.9"/>
<text x="468.90" y="524.86" font-size="6.3" text-anchor="middle" fill="#1c1c1c" stroke="#1c1c1c" stroke-width="0.18">V</text>
<text x="390.10" y="410.94" font-size="7.1" text-anchor="middle" fill="#1c1c1c" stroke="#1c1c1c" stroke-width="0.05" textLength="48.7" lengthAdjust="spacingAndGlyphs">Cytoplasmic ROS</text>
<text x="390.00" y="536.66" font-size="7.7" text-anchor="middle" fill="#1c1c1c" stroke="#1c1c1c" stroke-width="0.35" textLength="51.6" lengthAdjust="spacingAndGlyphs">Erythroid precursors</text>
<text x="0" y="0" font-size="7.6" text-anchor="middle" fill="#1c1c1c" stroke="#1c1c1c" stroke-width="0.35" textLength="59.5" lengthAdjust="spacingAndGlyphs" transform="translate(264.00 461.40) rotate(-90)">Fluorescence intensity</text>
<path d="M310.80,418.10 V414.20 H321.60 V418.10" fill="none" stroke="#252525" stroke-width="1.05"/>
<text x="316.20" y="413.45" font-size="6" text-anchor="middle" fill="#1c1c1c" stroke="#1c1c1c" stroke-width="0.05">*</text>
<path d="M350.40,432.00 V428.40 H360.70 V432.00" fill="none" stroke="#252525" stroke-width="1.05"/>
<text x="355.55" y="427.55" font-size="6" text-anchor="middle" fill="#1c1c1c" stroke="#1c1c1c" stroke-width="0.05">*</text>
<path d="M390.00,470.80 V466.40 H400.80 V470.80" fill="none" stroke="#252525" stroke-width="1.05"/>
<text x="395.40" y="466.35" font-size="6" text-anchor="middle" fill="#1c1c1c" stroke="#1c1c1c" stroke-width="0.05">*</text>
<path d="M428.60,500.30 V496.50 H439.40 V500.30" fill="none" stroke="#252525" stroke-width="1.05"/>
<text x="434.00" y="495.55" font-size="6" text-anchor="middle" fill="#1c1c1c" stroke="#1c1c1c" stroke-width="0.05">*</text>
<path d="M468.10,501.80 V498.00 H478.40 V501.80" fill="none" stroke="#252525" stroke-width="1.05"/>
<text x="473.25" y="497.05" font-size="6" text-anchor="middle" fill="#1c1c1c" stroke="#1c1c1c" stroke-width="0.05">*</text>
<rect x="399.50" y="415.60" width="8.50" height="5.10" fill="#e8857a"/>
<text x="411.10" y="420.73" font-size="6.8" fill="#1c1c1c" textLength="34.7" lengthAdjust="spacingAndGlyphs">Control mice</text>
<rect x="399.50" y="425.30" width="8.50" height="5.10" fill="#8e98c2"/>
<text x="411.10" y="430.43" font-size="6.8" fill="#1c1c1c" textLength="37.3" lengthAdjust="spacingAndGlyphs">Rpl11<tspan font-size="3.74" dy="-2.58">+/−</tspan><tspan dy="2.58"> mice</tspan></text>
<rect x="399.50" y="434.80" width="8.50" height="5.10" fill="#0d4a8a"/>
<text x="411.10" y="440.03" font-size="6.8" fill="#1c1c1c" textLength="70.7" lengthAdjust="spacingAndGlyphs">Rpl11<tspan font-size="3.74" dy="-2.58">+/−</tspan><tspan dy="2.58"> mice + bitopertin</tspan></text>
<text x="10.50" y="14.92" font-size="11.5" text-anchor="middle" fill="#111" stroke="#111" stroke-width="0.5" font-weight="bold">A</text>
<text x="352.50" y="14.72" font-size="11.5" text-anchor="middle" fill="#111" stroke="#111" stroke-width="0.5" font-weight="bold">B</text>
<text x="10.70" y="272.52" font-size="11.5" text-anchor="middle" fill="#111" stroke="#111" stroke-width="0.5" font-weight="bold">C</text>
<text x="10.30" y="399.42" font-size="11.5" text-anchor="middle" fill="#111" stroke="#111" stroke-width="0.5" font-weight="bold">D</text>
<text x="250.90" y="399.42" font-size="11.5" text-anchor="middle" fill="#111" stroke="#111" stroke-width="0.5" font-weight="bold">E</text>
<rect x="0.5" y="0.5" width="519" height="544" fill="none" stroke="#555" stroke-width="1.2"/>
</svg></body></html>
